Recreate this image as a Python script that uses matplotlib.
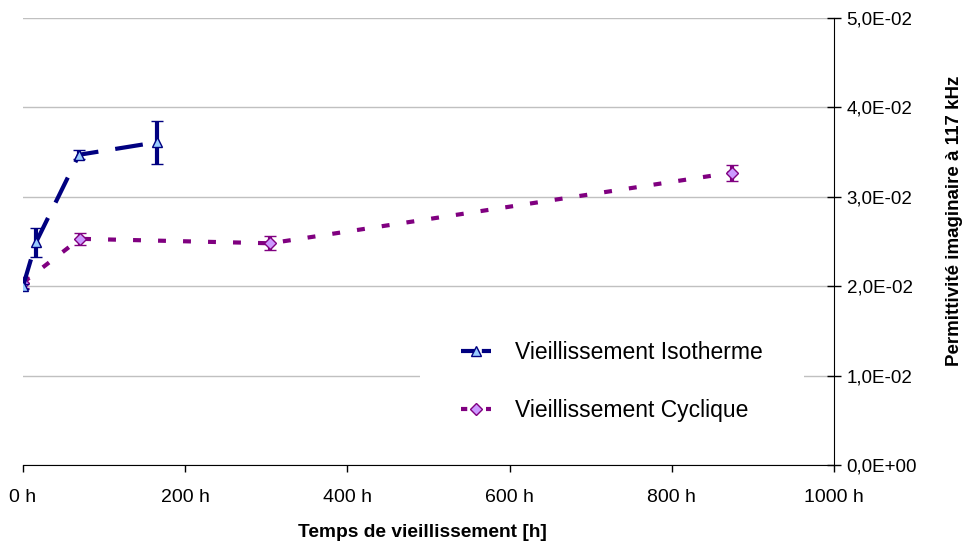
import matplotlib
matplotlib.use("Agg")
import numpy as np
import matplotlib.pyplot as plt
from matplotlib.ticker import FuncFormatter, MultipleLocator
from matplotlib.lines import Line2D
from matplotlib.legend_handler import HandlerLine2D

plt.rcParams['font.family'] = ['Liberation Sans', 'DejaVu Sans']

iso_x = [0, 16, 69, 165]
iso_y = [0.0200, 0.0249, 0.0347, 0.0361]
iso_err = [0.0003, 0.0016, 0.0005, 0.0024]

cyc_x = [0, 70, 305, 874]
cyc_y = [0.0204, 0.0253, 0.0248, 0.0327]
cyc_err = [0.0006, 0.0007, 0.0008, 0.0009]

labels = ['Vieillissement Isotherme', 'Vieillissement Cyclique']

NAVY = '#000080'
PURPLE = '#800080'

fig = plt.figure(figsize=(9.64, 5.43), dpi=100)
ax = fig.add_axes([23/964, 1-465/543, (834-23)/964, (465-18)/543])

iso_style = dict(color=NAVY, lw=3, dashes=(6.7, 4.1), marker='^', ms=7,
                 mfc='#99CCFF', mec=NAVY, mew=1)
cyc_style = dict(color=PURPLE, lw=3, dashes=(1.9, 4.1), marker='D', ms=6,
                 mfc='#CC99FF', mec=PURPLE, mew=1)

ax.errorbar(iso_x, iso_y, yerr=iso_err, ecolor=NAVY, elinewidth=3,
            capsize=4.3, capthick=3, zorder=4, **iso_style)
ax.errorbar(cyc_x, cyc_y, yerr=cyc_err, ecolor=PURPLE, elinewidth=3,
            capsize=4.3, capthick=3, zorder=3, **cyc_style)

ax.set_xlim(0, 1000)
ax.set_ylim(0, 0.05)
ax.xaxis.set_major_locator(MultipleLocator(200))
ax.yaxis.set_major_locator(MultipleLocator(0.01))
ax.xaxis.set_major_formatter(FuncFormatter(lambda v, p: f"{int(round(v))} h"))
ax.yaxis.set_major_formatter(FuncFormatter(lambda v, p: ("%.1E" % v).replace('.', ',')))

ax.yaxis.tick_right()
ax.yaxis.set_label_position('right')
ax.spines['left'].set_visible(False)
ax.spines['top'].set_visible(False)
ax.tick_params(axis='y', direction='inout', length=10, width=1, labelsize=13.5, pad=4)
ax.tick_params(axis='x', direction='out', length=5, width=1, labelsize=14, pad=12)

ax.grid(axis='y', color='#C0C0C0', lw=1)
ax.set_axisbelow(True)

ax.set_xlabel('Temps de vieillissement [h]', fontsize=13.8, fontweight='bold')
ax.set_ylabel('Permittivité imaginaire à 117 kHz', fontsize=13.5, fontweight='bold')
ax.xaxis.set_label_coords(0.492, -0.131)
ax.yaxis.set_label_coords(1.149, 0.546)
ax.yaxis.label.set_va('center')
ax.yaxis.label.set_ha('center')


class RightMarker(HandlerLine2D):
    def get_xdata(self, legend, xdescent, ydescent, width, height, fontsize):
        xdata = np.array([-xdescent, -xdescent + width])
        xdata_marker = np.array([-xdescent + 0.83 * width])
        return xdata, xdata_marker


h_iso = Line2D([], [], **iso_style)
h_cyc = Line2D([], [], **cyc_style)
h_iso.set_dashes((4.0, 1.0))
h_cyc.set_dashes((1.5, 1.5))

leg = ax.legend([h_iso, h_cyc], labels, loc='center left',
                bbox_to_anchor=(420/964, 1-381.5/543), bbox_transform=fig.transFigure,
                frameon=True, fontsize=16.5, handlelength=1.31, handletextpad=1.05,
                labelspacing=1.5, borderpad=1.8, borderaxespad=0,
                handler_map={Line2D: RightMarker(numpoints=1)})
leg.get_frame().set_edgecolor('none')
leg.get_frame().set_facecolor('white')
leg.get_frame().set_alpha(1)
leg.get_frame().set_boxstyle('square', pad=0)

fig.savefig('out.png', dpi=100)
